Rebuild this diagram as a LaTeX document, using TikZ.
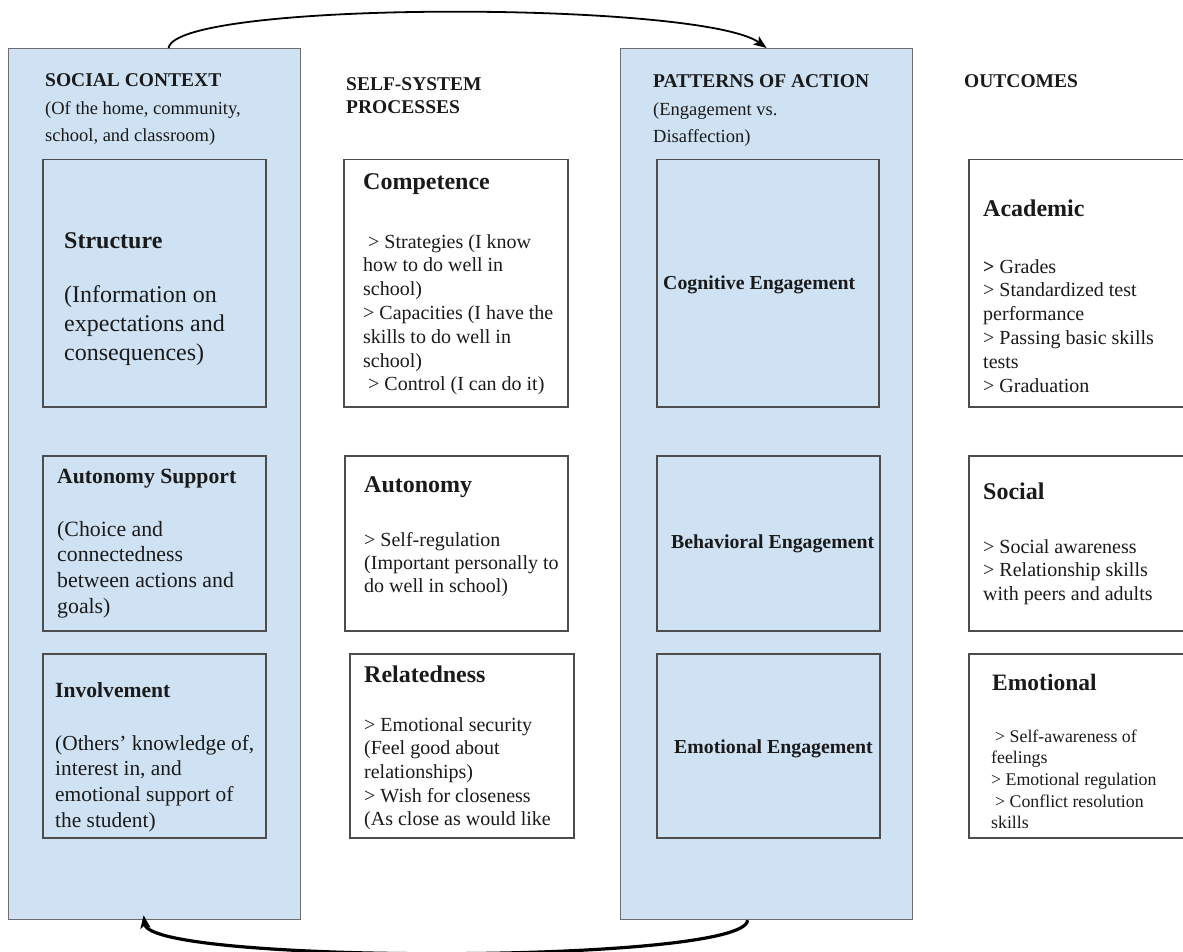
\documentclass[tikz,border=0pt]{standalone}
\usepackage{fontspec}
\setmainfont{Liberation Serif}
\usetikzlibrary{arrows.meta,shadows}
\definecolor{paleblue}{HTML}{CFE2F3}
\definecolor{colline}{HTML}{6E6E6E}
\definecolor{boxline}{HTML}{4D4D4D}
\definecolor{ink}{HTML}{1A1A1A}
\begin{document}
\begin{tikzpicture}[x=1pt,y=-1pt,
  column/.style={draw=colline, line width=1.2pt, fill=paleblue, anchor=north west, inner sep=0pt},
  card/.style={draw=boxline, line width=1.5pt, anchor=north west, inner sep=0pt,
    drop shadow={shadow xshift=0.8pt, shadow yshift=-1.6pt, fill=black, opacity=0.3}},
  bluecard/.style={card, fill=paleblue},
  whitecard/.style={card, fill=white},
  coltitle/.style={font=\bfseries\fontsize{19.5}{24}\selectfont, anchor=base west, inner sep=0pt, text=ink},
  head/.style={font=\bfseries\fontsize{#1}{#1}\selectfont, anchor=base west, inner sep=0pt, text=ink},
  body/.style n args={2}{font=\fontsize{#1}{#2}\selectfont, anchor=north west, inner sep=0pt, align=left, text=ink},
  flow/.style={draw=black, -{Stealth[length=13pt,width=10pt,inset=3pt]}}
]
\useasboundingbox (0,0) rectangle (1183,952);

% the two shaded columns
\node[column, minimum width=292pt, minimum height=871pt] (sc) at (8,48) {};
\node[column, minimum width=292pt, minimum height=871pt] (pa) at (620,48) {};

% column titles
\node[coltitle] (tsc) at (45,87) {SOCIAL CONTEXT};
\node[body={18.5}{27.5}] (ssc) at (45,94.75) {\strut(Of the home, community,\\school, and classroom)};
\node[body={19.5}{23}, font=\bfseries\fontsize{19.5}{23}\selectfont] (tss) at (346,73.9) {\strut SELF-SYSTEM\\PROCESSES};
\node[coltitle] (tpa) at (653,88) {PATTERNS OF ACTION};
\node[body={18.5}{27.5}] (spa) at (653,95.75) {\strut(Engagement vs.\\Disaffection)};
\node[coltitle] (tout) at (964,88) {OUTCOMES};

% social context boxes
\node[bluecard, minimum width=223pt, minimum height=247pt] (bst) at (42,159) {};
\node[head=24] (hst) at (64,248) {Structure};
\node[body={24}{29}] (tst) at (64,281.7) {\strut(Information on\\expectations and\\consequences)};

\node[bluecard, minimum width=223pt, minimum height=175pt] (bas) at (42,455) {};
\node[head=21.7] (has) at (57,483) {Autonomy Support};
\node[body={21.8}{25.7}] (tas) at (57,518) {\strut(Choice and\\connectedness\\between actions and\\goals)};

\node[bluecard, minimum width=223pt, minimum height=184pt] (binv) at (42,653) {};
\node[head=21.6] (hinv) at (55,697) {Involvement};
\node[body={21.4}{25.7}] (tinv) at (55,732) {\strut(Others’ knowledge of,\\interest in, and\\emotional support of\\the student)};

% self-system boxes
\node[whitecard, minimum width=224pt, minimum height=247pt] (bcomp) at (343,159) {};
\node[head=24] (hcomp) at (363,190) {Competence};
\node[body={20}{23.8}] (tcomp) at (363,231.3) {\strut\hspace{5pt}> Strategies (I know\\how to do well in\\school)\\> Capacities (I have the\\skills to do well in\\school)\\\hspace{5pt}> Control (I can do it)};

\node[whitecard, minimum width=223pt, minimum height=175pt] (baut) at (344,455) {};
\node[head=24] (haut) at (364,492) {Autonomy};
\node[body={20}{23.4}] (taut) at (364,529.6) {\strut> Self-regulation\\(Important personally to\\do well in school)};

\node[whitecard, minimum width=224pt, minimum height=184pt] (brel) at (349,653) {};
\node[head=24] (hrel) at (364,682) {Relatedness};
\node[body={20}{23.7}] (trel) at (364,714.4) {\strut> Emotional security\\(Feel good about\\relationships)\\> Wish for closeness\\(As close as would like};

% patterns of action boxes
\node[bluecard, minimum width=222pt, minimum height=247pt] (bcog) at (656,159) {};
\node[head=19.8] (tcog) at (663,289) {Cognitive Engagement};
\node[bluecard, minimum width=223pt, minimum height=175pt] (bbeh) at (656,455) {};
\node[head=19.8] (tbeh) at (671,548) {Behavioral Engagement};
\node[bluecard, minimum width=223pt, minimum height=184pt] (bemo) at (656,653) {};
\node[head=19.8] (temo) at (674,753) {Emotional Engagement};

% outcome boxes
\node[whitecard, minimum width=232pt, minimum height=247pt] (bacad) at (968,159) {};
\node[head=24] (hacad) at (983,217) {Academic};
\node[body={20}{23.8}] (tacad) at (983,256.3) {\strut\textbf{>} Grades\\> Standardized test\\performance\\> Passing basic skills\\tests\\> Graduation};

\node[whitecard, minimum width=232pt, minimum height=175pt] (bsoc) at (968,455) {};
\node[head=24] (hsoc) at (983,499) {Social};
\node[body={20}{23.5}] (tsoc) at (983,536.5) {\strut> Social awareness\\> Relationship skills\\with peers and adults};

\node[whitecard, minimum width=232pt, minimum height=184pt] (bemot) at (968,653) {};
\node[head=23.5] (hemot) at (992,690) {Emotional};
\node[body={17.8}{21.7}] (temot) at (991,726.8) {\strut\hspace{4pt}> Self-awareness of\\feelings\\> Emotional regulation\\\hspace{4pt}> Conflict resolution\\skills};

% feedback loop between the two columns
\draw[flow, line width=1.8pt] ([xshift=14pt]sc.north) .. controls +(7,-48) and +(-65,-47) .. (pa.north);
\draw[flow, line width=3.2pt] ([xshift=-19pt]pa.south) .. controls +(-2,44) and +(7,49) .. ([xshift=-11pt,yshift=5pt]sc.south);
\end{tikzpicture}
\end{document}
